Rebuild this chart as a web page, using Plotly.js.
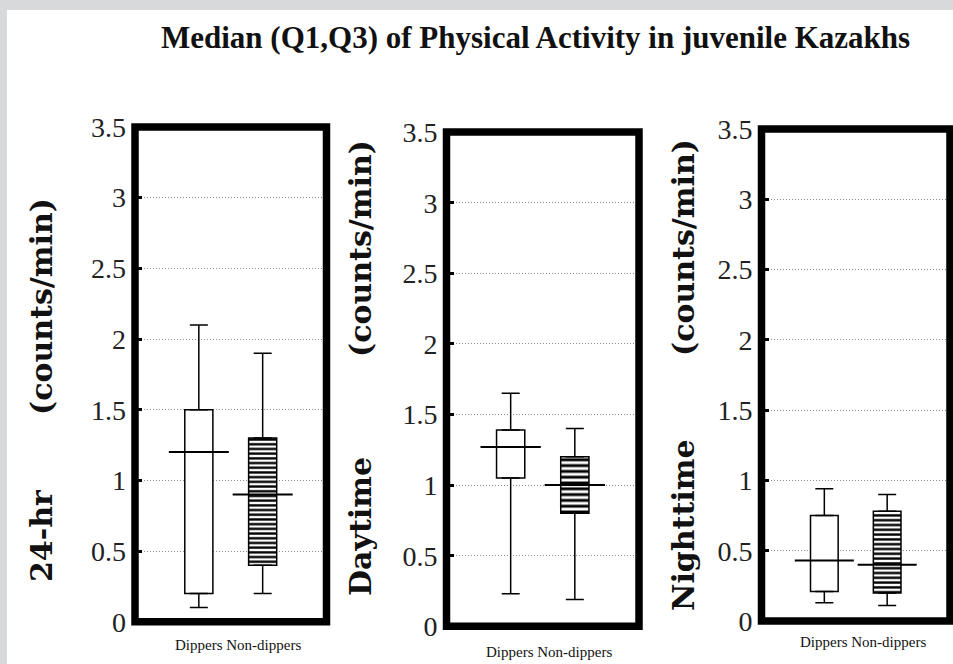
<!DOCTYPE html>
<html>
<head>
<meta charset="utf-8">
<script src="https://cdn.plot.ly/plotly-3.0.1.min.js"></script>
<style>html,body{margin:0;padding:0;background:#fff;}#chart{width:953px;height:664px;}</style>
</head>
<body>
<div id="chart"></div>
<script>
// ---- data ----
const categories = ['Dippers', 'Non-dippers'];
const panelLabels = ['24-hr', 'Daytime', 'Nighttime'];
const unitLabel = '(counts/min)';
const chartTitle = 'Median (Q1,Q3) of Physical Activity in juvenile Kazakhs';
const yTickVals = [0, 0.5, 1, 1.5, 2, 2.5, 3, 3.5];

const lower24 = [0.10, 0.20];
const q1_24 = [0.20, 0.40];
const median24 = [1.20, 0.90];
const q3_24 = [1.50, 1.30];
const upper24 = [2.10, 1.90];

const lowerDay = [0.23, 0.19];
const q1Day = [1.05, 0.80];
const medianDay = [1.27, 1.00];
const q3Day = [1.39, 1.20];
const upperDay = [1.65, 1.40];

const lowerNight = [0.13, 0.11];
const q1Night = [0.21, 0.20];
const medianNight = [0.43, 0.40];
const q3Night = [0.75, 0.78];
const upperNight = [0.94, 0.90];

const panelData = [
  {lower: lower24, q1: q1_24, med: median24, q3: q3_24, up: upper24},
  {lower: lowerDay, q1: q1Day, med: medianDay, q3: q3Day, up: upperDay},
  {lower: lowerNight, q1: q1Night, med: medianNight, q3: q3Night, up: upperNight}
];

// ---- layout geometry (pixels in the 953x664 page) ----
const W = 953, H = 664;
const frames = [
  {x0: 135, x1: 326.5, top: 127, bottom: 621.7, hatch: 4.7, lab: 237.5, labY: 645, ttlX: 41, unitY: 307, nameY: 536, nameSize: 30},
  {x0: 446.5, x1: 639, top: 132.1, bottom: 626.3, hatch: 5.8, lab: 548.5, labY: 652, ttlX: 360, unitY: 249, nameY: 527, nameSize: 30},
  {x0: 761.5, x1: 950, top: 129, bottom: 621, hatch: 4.8, lab: 863, labY: 642, ttlX: 683, unitY: 248, nameY: 525, nameSize: 30}
];
const px = v => v / W;
const py = v => 1 - v / H;
const xIdx = categories.map((c, i) => i);

const traces = [];
const layout = {
  width: W, height: H,
  margin: {l: 0, r: 0, t: 0, b: 0},
  paper_bgcolor: '#ffffff',
  plot_bgcolor: 'rgba(0,0,0,0)',
  showlegend: false,
  bargap: 0,
  shapes: [
    {type: 'rect', xref: 'paper', yref: 'paper', x0: 0, x1: px(7), y0: 0, y1: 1, fillcolor: '#d8d9db', line: {width: 0}, layer: 'below'},
    {type: 'rect', xref: 'paper', yref: 'paper', x0: 0, x1: 1, y0: py(10), y1: 1, fillcolor: '#d8d9db', line: {width: 0}, layer: 'below'}
  ],
  annotations: [
    {text: '<b>' + chartTitle + '</b>', xref: 'paper', yref: 'paper', x: px(535), y: py(37), xanchor: 'center', yanchor: 'middle', showarrow: false,
     font: {family: 'Liberation Serif', size: 31, color: '#111'}}
  ]
};

panelData.forEach((d, p) => {
  const f = frames[p];
  const sfx = p === 0 ? '' : String(p + 1);
  const xa = 'x' + sfx, ya = 'y' + sfx;
  layout['xaxis' + sfx] = {
    domain: [px(f.x0), px(f.x1)], range: [-1, 2], anchor: ya,
    showticklabels: false, showgrid: false, zeroline: false, showline: false, ticks: '', fixedrange: true
  };
  layout['yaxis' + sfx] = {
    domain: [py(f.bottom), py(f.top)], range: [0, 3.5], anchor: xa,
    tickvals: yTickVals, showgrid: true, gridcolor: '#8a8a8a', griddash: '1px,2px', gridwidth: 1,
    zeroline: false, showline: false, ticks: 'inside', ticklen: 7, tickwidth: 3, tickcolor: '#000',
    ticklabelstandoff: 8,
    tickfont: {family: 'Liberation Serif', size: 28, color: '#222'}, fixedrange: true
  };
  // box body
  traces.push({
    type: 'bar', xaxis: xa, yaxis: ya,
    x: xIdx, base: d.q1, y: d.q3.map((v, i) => v - d.q1[i]), width: 0.44,
    marker: {color: '#fff', line: {color: '#000', width: 1.5},
      pattern: {shape: ['', '-'], fgcolor: '#000', bgcolor: '#fff', size: f.hatch, solidity: 0.5}},
    hoverinfo: 'skip'
  });
  // upper whisker
  traces.push({
    type: 'scatter', mode: 'markers', xaxis: xa, yaxis: ya,
    x: xIdx, y: d.q3, marker: {size: 1, opacity: 0},
    error_y: {type: 'data', symmetric: false, array: d.up.map((v, i) => v - d.q3[i]), arrayminus: [0, 0], width: 9, thickness: 1.5, color: '#000'},
    hoverinfo: 'skip'
  });
  // lower whisker
  traces.push({
    type: 'scatter', mode: 'markers', xaxis: xa, yaxis: ya,
    x: xIdx, y: d.q1, marker: {size: 1, opacity: 0},
    error_y: {type: 'data', symmetric: false, array: [0, 0], arrayminus: d.q1.map((v, i) => v - d.lower[i]), width: 9, thickness: 1.5, color: '#000'},
    hoverinfo: 'skip'
  });
  // median line
  traces.push({
    type: 'scatter', mode: 'markers', xaxis: xa, yaxis: ya,
    x: xIdx, y: d.med, marker: {size: 1, opacity: 0},
    error_x: {type: 'constant', value: 0.47, width: 0, thickness: 2, color: '#000'},
    hoverinfo: 'skip'
  });
  // thick frame
  layout.shapes.push({type: 'rect', xref: xa + ' domain', yref: ya + ' domain', x0: 0, x1: 1, y0: 0, y1: 1,
    line: {color: '#000', width: 7.5}, layer: 'above'});
  // category label
  layout.annotations.push({text: categories.join(' '), xref: 'paper', yref: 'paper', x: px(f.lab), y: py(f.labY),
    xanchor: 'center', yanchor: 'middle', showarrow: false, font: {family: 'Liberation Serif', size: 15, color: '#111'}});
  // y titles
  layout.annotations.push({text: '<b>' + unitLabel + '</b>', xref: 'paper', yref: 'paper', x: px(f.ttlX), y: py(f.unitY),
    xanchor: 'center', yanchor: 'middle', textangle: -90, showarrow: false, font: {family: 'DejaVu Serif', size: 30, color: '#111'}});
  layout.annotations.push({text: '<b>' + panelLabels[p] + '</b>', xref: 'paper', yref: 'paper', x: px(f.ttlX), y: py(f.nameY),
    xanchor: 'center', yanchor: 'middle', textangle: -90, showarrow: false, font: {family: 'DejaVu Serif', size: f.nameSize, color: '#111'}});
});

Plotly.newPlot('chart', traces, layout, {displayModeBar: false, staticPlot: true});
</script>
</body>
</html>
